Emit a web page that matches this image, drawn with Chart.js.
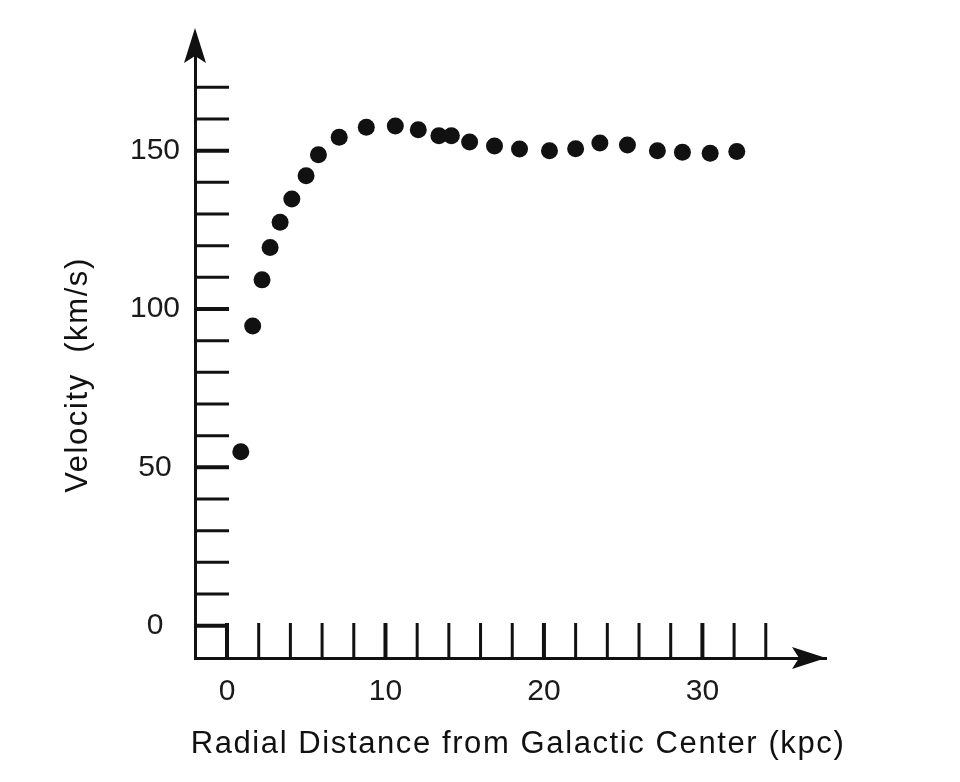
<!DOCTYPE html>
<html>
<head>
<meta charset="utf-8">
<script src="https://cdn.jsdelivr.net/npm/chart.js@4"></script>
<style>
  html, body { margin: 0; padding: 0; background: #fff; }
  .wrap { width: 960px; height: 782px; }
</style>
</head>
<body>
<div class="wrap"><canvas id="rotCurve"></canvas></div>
<script>
  // radial distance (kpc) and rotation velocity (km/s)
  const distance = [0.87, 1.62, 2.21, 2.72, 3.35, 4.09, 4.99, 5.77, 7.08, 8.79, 10.62, 12.07, 13.37, 14.16, 15.31, 16.88, 18.46, 20.35, 22.0, 23.53, 25.27, 27.16, 28.74, 30.49, 32.17];
  const velocity = [54.9, 94.6, 109.2, 119.4, 127.4, 134.7, 142.1, 148.7, 154.2, 157.4, 157.8, 156.6, 154.7, 154.7, 152.7, 151.5, 150.5, 150.0, 150.6, 152.4, 151.8, 150.0, 149.5, 149.2, 149.7];

  const xTickLabels = [0, 10, 20, 30];
  const yTickLabels = [0, 50, 100, 150];
  const xTickMarks = [0, 2, 4, 6, 8, 10, 12, 14, 16, 18, 20, 22, 24, 26, 28, 30, 32, 34];
  const yTickMarks = [0, 10, 20, 30, 40, 50, 60, 70, 80, 90, 100, 110, 120, 130, 140, 150, 160, 170];

  const ink = '#111';
  const fontFam = 'Arial, "Liberation Sans", Helvetica, sans-serif';

  // inward tick marks, arrow heads and the two axis titles
  const axisDecor = {
    id: 'axisDecor',
    afterDraw(chart) {
      const ctx = chart.ctx;
      const xs = chart.scales.x, ys = chart.scales.y;
      const area = chart.chartArea;
      ctx.save();
      ctx.strokeStyle = ink;
      ctx.lineCap = 'butt';

      yTickMarks.forEach(v => {
        const py = ys.getPixelForValue(v);
        ctx.lineWidth = yTickLabels.includes(v) ? 4 : 3;
        ctx.beginPath();
        ctx.moveTo(area.left, py);
        ctx.lineTo(area.left + 34, py);
        ctx.stroke();
      });
      xTickMarks.forEach(v => {
        const px = xs.getPixelForValue(v);
        ctx.lineWidth = xTickLabels.includes(v) ? 4 : 3;
        ctx.beginPath();
        ctx.moveTo(px, area.bottom);
        ctx.lineTo(px, area.bottom - 35);
        ctx.stroke();
      });

      // y axis runs a little past the plot area up to its arrow
      const ax = area.left, ay = area.top - 12;
      ctx.lineWidth = 3;
      ctx.beginPath();
      ctx.moveTo(ax, area.top);
      ctx.lineTo(ax, ay + 20);
      ctx.stroke();

      ctx.fillStyle = ink;
      ctx.beginPath();
      ctx.moveTo(ax, ay);
      ctx.lineTo(ax + 11, ay + 35);
      ctx.lineTo(ax, ay + 28);
      ctx.lineTo(ax - 11, ay + 35);
      ctx.closePath();
      ctx.fill();
      const bx = area.right, by = area.bottom;
      ctx.beginPath();
      ctx.moveTo(bx, by);
      ctx.lineTo(bx - 34, by - 11);
      ctx.lineTo(bx - 27, by);
      ctx.lineTo(bx - 34, by + 11);
      ctx.closePath();
      ctx.fill();

      // axis titles
      ctx.fillStyle = ink;
      ctx.font = '31px ' + fontFam;
      ctx.letterSpacing = '1.6px';
      ctx.textAlign = 'center';
      ctx.textBaseline = 'alphabetic';
      ctx.fillText('Radial Distance from Galactic Center (kpc)', 518, 753);
      ctx.translate(87, 375);
      ctx.rotate(-Math.PI / 2);
      ctx.fillText('Velocity  (km/s)', 0, 0);
      ctx.restore();
    }
  };

  new Chart(document.getElementById('rotCurve'), {
    type: 'scatter',
    data: {
      datasets: [{
        data: distance.map((d, i) => ({ x: d, y: velocity[i] })),
        backgroundColor: ink,
        borderWidth: 0,
        pointRadius: 8.5,
        pointHoverRadius: 8.5
      }]
    },
    options: {
      responsive: true,
      maintainAspectRatio: false,
      animation: false,
      layout: { padding: { left: 0, top: 40, right: 134, bottom: 0 } },
      plugins: {
        legend: { display: false },
        tooltip: { enabled: false }
      },
      scales: {
        x: {
          type: 'linear',
          min: -2.02,
          max: 37.8,
          afterFit: s => { s.height = 124; },
          afterBuildTicks: s => { s.ticks = xTickLabels.map(v => ({ value: v })); },
          grid: { display: false, drawTicks: false },
          border: { display: true, width: 3, color: ink },
          ticks: {
            color: '#1a1a1a',
            font: { family: fontFam, size: 30 },
            padding: 16,
            maxRotation: 0,
            autoSkip: false,
            callback: v => String(v)
          }
        },
        y: {
          type: 'linear',
          min: -10.2,
          max: 184.94,
          afterFit: s => { s.width = 195; },
          afterBuildTicks: s => { s.ticks = yTickLabels.map(v => ({ value: v })); },
          grid: { display: false, drawTicks: false },
          border: { display: true, width: 3, color: ink },
          ticks: {
            color: '#1a1a1a',
            font: { family: fontFam, size: 30 },
            padding: 15,
            crossAlign: 'center',
            autoSkip: false,
            callback: v => String(v)
          }
        }
      }
    },
    plugins: [axisDecor]
  });
</script>
</body>
</html>
